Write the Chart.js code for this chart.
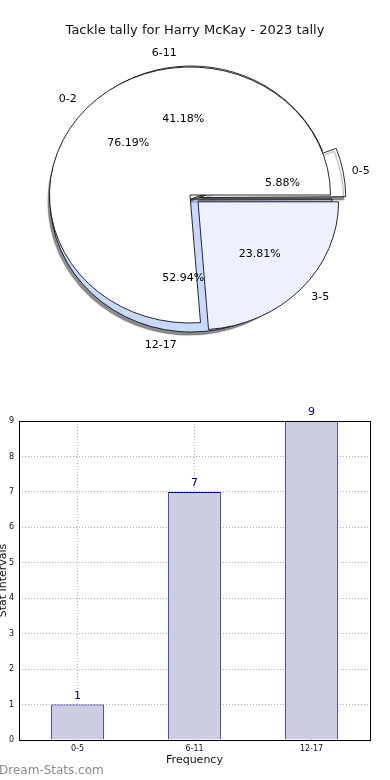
<!DOCTYPE html>
<html>
<head>
<meta charset="utf-8">
<script src="https://cdn.jsdelivr.net/npm/chart.js@4/dist/chart.umd.min.js"></script>
<style>
  html, body { margin: 0; padding: 0; background: #fff; }
  body { width: 390px; height: 780px; position: relative; overflow: hidden; font-family: 'DejaVu Sans', sans-serif; }
  canvas { position: absolute; left: 0; }
  #title { position: absolute; top: 22px; left: 0; width: 390px; text-align: center; font-size: 13px; color: #111; }
  #brand { position: absolute; left: -1px; top: 763px; font-size: 12px; color: #8a8a8a; }
</style>
</head>
<body>
<canvas id="pie-back" width="390" height="390" style="top:0"></canvas>
<canvas id="pie-front" width="390" height="390" style="top:0"></canvas>
<div id="title">Tackle tally for Harry McKay - 2023 tally</div>
<canvas id="bars" width="390" height="380" style="top:400px"></canvas>
<div id="brand">Dream-Stats.com</div>
<script>
// Pie 1 (behind): counts per range
const rangeLabels = ['0-5', '6-11', '12-17'];
const rangeCounts = [1, 7, 9];
const rangeColors = ['#ffffff', '#ffffff', '#c9d9fd'];
const rangeExplode = [8, 0, 0];

// Pie 2 (front)
const smallLabels = ['0-2', '3-5'];
const smallCounts = [16, 5];
const smallColors = ['#ffffff', '#ecf1fd'];
const smallExplode = [0, 10];

// Bars
const barLabels = ['0-5', '6-11', '12-17'];
const barValues = [1, 7, 9];
const yTicks = [0, 1, 2, 3, 4, 5, 6, 7, 8, 9];

const FONT = "'DejaVu Sans', sans-serif";
// Chart.js v4 moves an arc by offset / 4
const OFFSET_SCALE = 4;

// matplotlib draws counter-clockwise from 3 o'clock; Chart.js goes clockwise,
// so reverse the slices and start at 90deg
function rev(arr) { return arr.slice().reverse(); }

function pct(values) {
  const total = values.reduce((a, b) => a + b, 0);
  return values.map((v) => (v * 100 / total).toFixed(2) + '%');
}

// squash the round pie into the ellipse the reference has
function ellipsePlugin(sx, shadow) {
  return {
    id: 'ellipse',
    beforeDatasetsDraw(chart) {
      const arc = chart.getDatasetMeta(0).data[0];
      const ctx = chart.ctx;
      ctx.save();
      ctx.translate(arc.x, arc.y);
      ctx.scale(sx, 1);
      ctx.translate(-arc.x, -arc.y);
      if (shadow) {
        ctx.shadowColor = 'rgba(0,0,0,0.45)';
        ctx.shadowOffsetX = -2;
        ctx.shadowOffsetY = 3;
        ctx.shadowBlur = 1;
      }
    },
    afterDatasetsDraw(chart) {
      chart.ctx.restore();
    },
  };
}

function pieOptions(radius, padding) {
  return {
    responsive: false,
    devicePixelRatio: 1,
    animation: false,
    rotation: 90,
    layout: { padding },
    plugins: { legend: { display: false }, tooltip: { enabled: false }, title: { display: false } },
    radius,
  };
}

const SX_BACK = 141 / 133;
const SX_FRONT = 140.5 / 128;

const backChart = new Chart(document.getElementById('pie-back'), {
  type: 'pie',
  data: {
    labels: rev(rangeLabels),
    datasets: [{
      data: rev(rangeCounts),
      backgroundColor: rev(rangeColors),
      borderColor: '#000',
      borderWidth: 0.8,
      offset: rev(rangeExplode).map((v) => v * OFFSET_SCALE),
    }],
  },
  options: pieOptions(133, { top: 8, right: 8 }),
  plugins: [ellipsePlugin(SX_BACK, true)],
});

function drawPieLabels(ctx, chart, sx, labels, texts, explode) {
  const meta = chart.getDatasetMeta(0);
  const n = labels.length;
  meta.data.forEach((arc, i) => {
    const idx = n - 1 - i;
    const mid = (arc.startAngle + arc.endAngle) / 2;
    const off = explode[idx];
    const r = arc.outerRadius;
    const c = Math.cos(mid);
    const s = Math.sin(mid);
    ctx.fillStyle = '#000';
    ctx.font = '11px ' + FONT;
    ctx.textBaseline = 'middle';
    // outer label
    ctx.textAlign = c < 0 ? 'right' : 'left';
    ctx.fillText(labels[idx], arc.x + sx * c * (r * 1.1 + off), arc.y + s * (r * 1.1 + off));
    // percentage
    ctx.textAlign = 'center';
    ctx.fillText(texts[idx], arc.x + sx * c * (r * 0.6 + off), arc.y + s * (r * 0.6 + off));
  });
}

new Chart(document.getElementById('pie-front'), {
  type: 'pie',
  data: {
    labels: rev(smallLabels),
    datasets: [{
      data: rev(smallCounts),
      backgroundColor: rev(smallColors),
      borderColor: '#000',
      borderWidth: 0.8,
      offset: rev(smallExplode).map((v) => v * OFFSET_SCALE),
    }],
  },
  options: pieOptions(128, { right: 10 }),
  plugins: [
    ellipsePlugin(SX_FRONT, false),
    {
      id: 'pieLabels',
      afterDraw(chart) {
        const ctx = chart.ctx;
        ctx.save();
        drawPieLabels(ctx, backChart, SX_BACK, rangeLabels, pct(rangeCounts), rangeExplode);
        drawPieLabels(ctx, chart, SX_FRONT, smallLabels, pct(smallCounts), smallExplode);
        ctx.restore();
      },
    },
  ],
});

const barExtras = {
  id: 'barExtras',
  afterDraw(chart) {
    const ctx = chart.ctx;
    const { left, top, right, bottom } = chart.chartArea;
    ctx.save();
    ctx.strokeStyle = '#000';
    ctx.lineWidth = 1;
    ctx.strokeRect(left + 0.5, top + 0.5, right - left, bottom - top);

    ctx.fillStyle = '#00007a';
    ctx.font = '11px ' + FONT;
    ctx.textAlign = 'center';
    ctx.textBaseline = 'bottom';
    chart.getDatasetMeta(0).data.forEach((bar, i) => {
      ctx.fillText(String(barValues[i]), bar.x, bar.y - 3);
    });

    ctx.fillStyle = '#111';
    ctx.font = '11px ' + FONT;
    ctx.textBaseline = 'middle';
    ctx.fillText('Frequency', (left + right) / 2, bottom + 20);
    ctx.translate(3, (top + bottom) / 2);
    ctx.rotate(-Math.PI / 2);
    ctx.fillText('Stat Intervals', 0, 0);
    ctx.restore();
  },
};

new Chart(document.getElementById('bars'), {
  type: 'bar',
  data: {
    labels: barLabels,
    datasets: [{
      data: barValues,
      backgroundColor: '#ccccE3',
      borderColor: '#000080',
      borderWidth: 1,
      barPercentage: 0.45,
      categoryPercentage: 1,
    }],
  },
  options: {
    responsive: false,
    devicePixelRatio: 1,
    animation: false,
    layout: { padding: { top: 21, right: 20 } },
    plugins: { legend: { display: false }, tooltip: { enabled: false } },
    scales: {
      x: {
        grid: { offset: false, color: '#b0b0b0', lineWidth: 1, drawTicks: false },
        border: { display: false, dash: [1, 2] },
        ticks: { color: '#111', font: { size: 8, family: FONT }, padding: 4 },
        afterFit(scale) { scale.height = 40; },
      },
      y: {
        min: 0,
        max: 9,
        afterBuildTicks(scale) { scale.ticks = yTicks.map((v) => ({ value: v })); },
        grid: { color: '#b0b0b0', lineWidth: 1, drawTicks: false },
        border: { display: false, dash: [1, 2] },
        ticks: { color: '#111', font: { size: 8, family: FONT }, padding: 5 },
        afterFit(scale) { scale.width = 19; },
      },
    },
  },
  plugins: [barExtras],
});
</script>
</body>
</html>
